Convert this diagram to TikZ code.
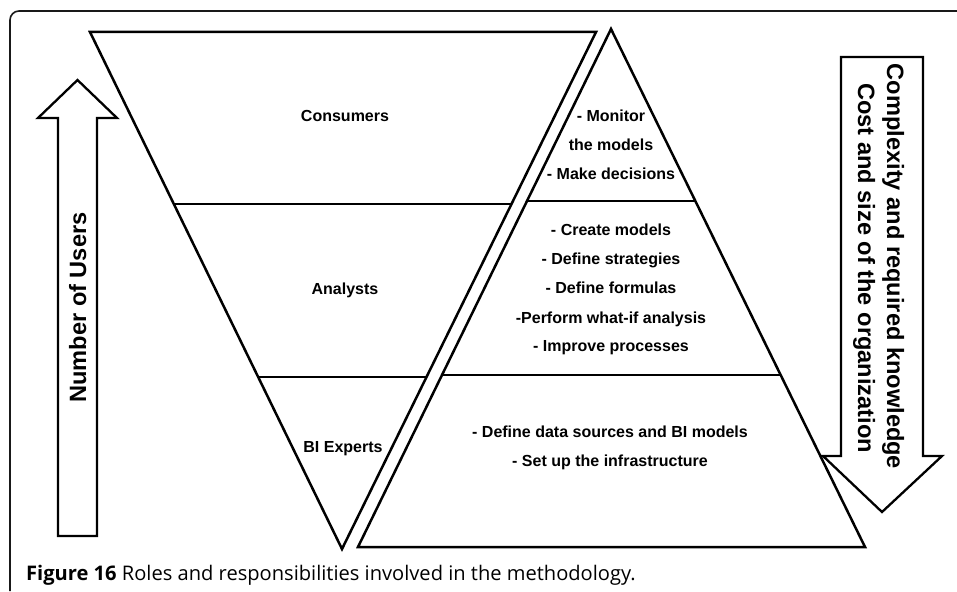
\documentclass[tikz,border=0pt]{standalone}
\usepackage{fontspec}
\setmainfont{Liberation Sans}
\newfontfamily\capfont{Open Sans}
\usetikzlibrary{calc}
\begin{document}
\begin{tikzpicture}[x=1pt,y=-1pt,line join=miter,
  tri/.style={draw=black,line width=2.5pt},
  bigarrow/.style={draw=black,line width=2.3pt},
  frame/.style={draw=black!90,line width=1.6pt,rounded corners=9pt},
  lbl/.style={font=\fontsize{16}{19}\selectfont\bfseries,inner sep=0pt,anchor=base},
  arrowtxt/.style={font=\fontsize{23.6}{28}\selectfont\bfseries,inner sep=0pt,anchor=base},
  captxt/.style={font=\capfont\fontsize{20.1}{24}\selectfont,inner sep=0pt,anchor=base west}]
\useasboundingbox (0,0) rectangle (957,591);
% frame
\coordinate (fr1) at (957,11);
\coordinate (fr2) at (10,11);
\coordinate (fr3) at (10,591);
\draw[frame] (fr1) -- (fr2) -- (fr3);
% inverted triangle
\coordinate (A1) at (90,32);
\coordinate (A2) at (596,32);
\coordinate (A3) at (342,549);
\draw[tri] (A1) -- (A2) -- (A3) -- cycle;
\draw[tri] ($(A1)!0.3327!(A3)$) -- ($(A2)!0.3327!(A3)$);
\draw[tri] ($(A1)!0.6673!(A3)$) -- ($(A2)!0.6673!(A3)$);
% upright triangle
\coordinate (B1) at (611,29);
\coordinate (B2) at (358,547);
\coordinate (B3) at (865,547);
\draw[tri] (B1) -- (B2) -- (B3) -- cycle;
\draw[tri] ($(B1)!0.332!(B2)$) -- ($(B1)!0.332!(B3)$);
\draw[tri] ($(B1)!0.668!(B2)$) -- ($(B1)!0.668!(B3)$);
% up arrow
\draw[bigarrow] (58,536) -- (58,118) -- (38,118) -- (77.5,80) -- (117,118) -- (97,118) -- (97,536) -- cycle;
\node[arrowtxt,rotate=90] (users) at (86,307.5) {Number of Users};
% down arrow
\draw[bigarrow] (841,57) -- (923,57) -- (923,456) -- (942,456) -- (882,512) -- (823,456) -- (841,456) -- cycle;
\node[arrowtxt,rotate=-90] (cplx) at (887,266.5) {Complexity and required knowledge};
\node[arrowtxt,rotate=-90] (cost) at (858,268) {Cost and size of the organization};
% left labels
\node[lbl] (cons) at (345,121.7) {Consumers};
\node[lbl] (anal) at (345,294) {Analysts};
\node[lbl] (bie) at (343,452.5) {BI Experts};
% right labels
\node[lbl] (r1) at (611,121.7) {- Monitor};
\node[lbl] (r2) at (611,150.2) {the models};
\node[lbl] (r3) at (611,179) {- Make decisions};
\node[lbl] (r4) at (611,235) {- Create models};
\node[lbl] (r5) at (611,264) {- Define strategies};
\node[lbl] (r6) at (611,293.3) {- Define formulas};
\node[lbl] (r7) at (611,323) {-Perform what-if analysis};
\node[lbl] (r8) at (611,351.7) {- Improve processes};
\node[lbl] (r9) at (610,437.3) {- Define data sources and BI models};
\node[lbl] (r10) at (610,466.7) {- Set up the infrastructure};
% caption
\node[captxt] (cap) at (26,580) {\textbf{Figure 16} Roles and responsibilities involved in the methodology.};
\end{tikzpicture}
\end{document}
